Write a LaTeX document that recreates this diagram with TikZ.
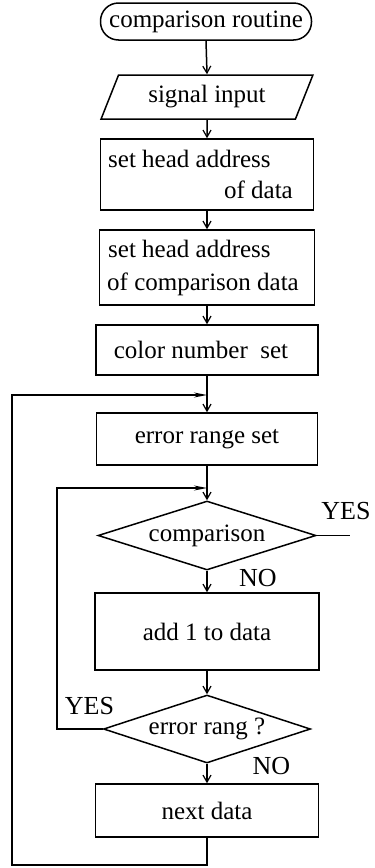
\documentclass[tikz,border=0pt]{standalone}
\usepackage{fontspec}
\setmainfont{Liberation Serif}
\usetikzlibrary{shapes.geometric,arrows.meta}
\begin{document}
\begin{tikzpicture}[x=1pt,y=-1pt,
  every node/.style={font=\fontsize{25}{28}\selectfont, inner sep=0pt},
  ln/.style={line width=1.5pt},
  box/.style={draw, line width=1.5pt, rectangle},
  term/.style={draw, line width=1.5pt, rectangle, rounded corners=18pt},
  iobox/.style={draw, line width=1.5pt, trapezium, trapezium left angle=63, trapezium right angle=117, trapezium stretches=true},
  dec/.style={draw, line width=1.5pt, diamond, aspect=3.1},
  lbl/.style={font=\fontsize{26}{28}\selectfont},
  darr/.style={line width=1.5pt, -{Straight Barb[length=7pt,width=8pt,line width=1.2pt]}},
  harr/.style={line width=1.5pt, -{Stealth[length=13pt,width=5pt]}}
]
\useasboundingbox (0,0) rectangle (375,868);

\node[term, minimum width=211pt, minimum height=37pt] (start) at (206,21.5) {comparison routine};
\node[iobox, minimum width=212pt, minimum height=44pt] (io) at (207,97) {signal input};

\node[box, minimum width=213pt, minimum height=71pt] (b1) at (207,174.5) {};
\node[anchor=base west] (b1a) at (108,167) {set head address};
\node[anchor=base east] (b1b) at (293,198) {of data};

\node[box, minimum width=215pt, minimum height=75pt] (b2) at (207,267.5) {};
\node[anchor=base west] (b2a) at (108,257) {set head address};
\node[anchor=base west] (b2b) at (107,290) {of comparison data};

\node[box, minimum width=222pt, minimum height=50pt] (b3) at (207,350) {\hspace*{-12pt}color number\ \ set};

\coordinate (m1) at (207,395);
\node[box, minimum width=221pt, minimum height=52pt] (b4) at (207,439) {error range set};

\coordinate (m2) at (207,488);
\node[dec, minimum width=218pt, minimum height=69pt] (d1) at (207,535.5) {comparison};
\coordinate (yesend) at (350,535.5);
\node[lbl] (yes1) at (346,511.5) {YES};
\node[lbl] (no1) at (258,578) {NO};

\node[box, minimum width=224pt, minimum height=77pt] (b5) at (207,631.5) {add 1 to data};

\node[dec, minimum width=207pt, minimum height=68pt] (d2) at (207,729) {error rang ?};
\node[lbl] (yes2) at (89.5,706.5) {YES};
\node[lbl] (no2) at (271.5,766.5) {NO};
\coordinate (ilc) at (57,729);

\node[box, minimum width=223pt, minimum height=53pt] (b6) at (207,810.5) {next data};
\coordinate (olc) at (12,865);

% connectors
\draw[darr] (start.south) -- (io.north);
\draw[darr] (io.south) -- (b1.north);
\draw[darr] (b1.south) -- (b2.north);
\draw[darr] (b2.south) -- (b3.north);
\draw[darr] (b3.south) -- (b4.north);
\draw[darr] (b4.south) -- (d1.north);
\draw[ln] (d1.east) -- (yesend);
\draw[darr] (d1.south) -- (b5.north);
\draw[darr] (b5.south) -- (d2.north);
\draw[darr] (d2.south) -- (b6.north);
% loops
\draw[harr] (d2.west) -- (ilc) |- (m2);
\draw[harr] (b6.south) |- (olc) |- (m1);
\end{tikzpicture}
\end{document}
